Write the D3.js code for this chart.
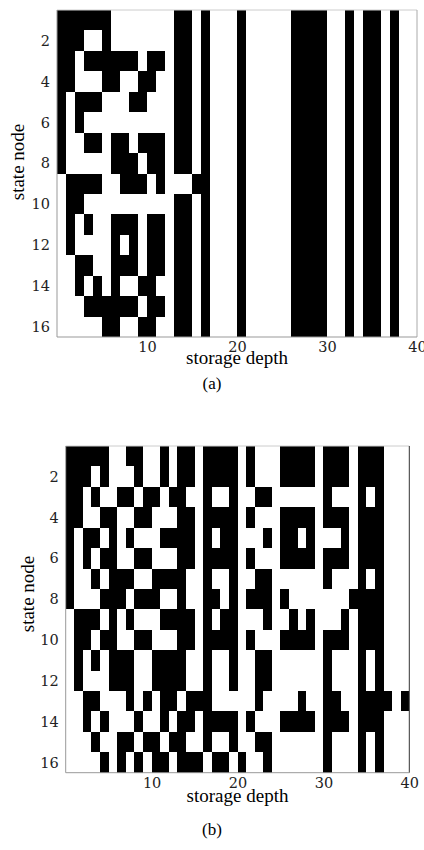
<!DOCTYPE html>
<html>
<head>
<meta charset="utf-8">
<script src="https://cdn.jsdelivr.net/npm/d3@7"></script>
<style>
  body { margin: 0; background: #fff; }
</style>
</head>
<body>
<div id="chart"></div>
<script>
// each string is one state node (row 1..16), each character one storage depth (1..40)
// "1" = black cell, "0" = white cell
var depthA = [
  "1111110000000110100010000011110010110100",
  "1110010000000110100010000011110010110100",
  "1101111110110110100010000011110010110100",
  "1100011001100110100010000011110010110100",
  "1011100011000110100010000011110010110100",
  "1010000000000110100010000011110010110100",
  "1001101101110110100010000011110010110100",
  "1000001110110110100010000011110010110100",
  "0111100111010001100010000011110010110100",
  "0110000000000110100010000011110010110100",
  "0101001110110110100010000011110010110100",
  "0100001010110110100010000011110010110100",
  "0011001110110110100010000011110010110100",
  "0010101001100110100010000011110010110100",
  "0001111110110110100010000011110010110100",
  "0000011001100110100010000011110010110100"
];

var depthB = [
  "1111100110010110111101000111101110111000",
  "1110100010010110111101000111101110111000",
  "1101001101101100100100110000001000101000",
  "1100110011000110111101000111101110111000",
  "1011010100011110101100010110100010111000",
  "1010110011000110111101000111101110111000",
  "1001011100111100100100110000001000101000",
  "1000111011100100110101110100000001111000",
  "0111010100011110101100010010100010111000",
  "0110110011000110111101000111101110111000",
  "0101011100111100100100110000001000101000",
  "0100011100111100100100110000001000101000",
  "0011000101011011100000100001001100111101",
  "0010100010010110111101000111101110111000",
  "0001001101101100100100110000001000101000",
  "0000101010110111011010010000001000101000"
];

var yTicks = [2, 4, 6, 8, 10, 12, 14, 16];
var xTicks = [10, 20, 30, 40];
var xTitle = "storage depth";
var yTitle = "state node";
var captions = ["(a)", "(b)"];

var width = 424, height = 850;

var svg = d3.select("#chart")
  .append("svg")
    .attr("width", width)
    .attr("height", height)
    .style("display", "block")
    .style("background", "#fff");

// layout of the two panels (pixel boxes of the image area)
var panels = [
  {data: depthA, caption: captions[0], left: 57, right: 417, top: 10, bottom: 337,
   xTitleY: 364, yTitleX: 24, yTitleY: 162, captionY: 389, rightStroke: "#aaa"},
  {data: depthB, caption: captions[1], left: 65.7, right: 409.3, top: 446, bottom: 772.7,
   xTitleY: 802, yTitleX: 34, yTitleY: 594, captionY: 835, rightStroke: "#333"}
];

function drawPanel(p) {
  var nRows = p.data.length,
      nCols = p.data[0].length;

  var x = d3.scaleLinear()
      .domain([0, nCols])
      .range([p.left, p.right]);
  var y = d3.scaleLinear()
      .domain([0.5, nRows + 0.5])
      .range([p.top, p.bottom]);

  // turn the strings into a list of black cells
  var cells = [];
  p.data.forEach(function (row, i) {
    row.split("").forEach(function (v, j) {
      if (v === "1") cells.push({row: i + 1, col: j + 1});
    });
  });

  var g = svg.append("g");

  g.append("g")
    .selectAll("rect")
    .data(cells)
    .enter()
    .append("rect")
      .attr("x", function (d) { return x(d.col - 1); })
      .attr("y", function (d) { return y(d.row - 0.5); })
      .attr("width", function (d) { return x(d.col) - x(d.col - 1); })
      .attr("height", function (d) { return y(d.row + 0.5) - y(d.row - 0.5); })
      .attr("fill", "#000")
      .attr("shape-rendering", "crispEdges");

  // box around the image
  g.append("line")
    .attr("x1", p.left).attr("x2", p.right).attr("y1", p.top).attr("y2", p.top)
    .attr("stroke", "#ccc");
  g.append("line")
    .attr("x1", p.right).attr("x2", p.right).attr("y1", p.top).attr("y2", p.bottom)
    .attr("stroke", p.rightStroke);
  g.append("line")
    .attr("x1", p.left).attr("x2", p.left).attr("y1", p.top).attr("y2", p.bottom)
    .attr("stroke", "#999");
  g.append("line")
    .attr("x1", p.left).attr("x2", p.right).attr("y1", p.bottom).attr("y2", p.bottom)
    .attr("stroke", "#999");

  // axes (ticks hidden, only labels)
  var xAxis = g.append("g")
    .attr("transform", "translate(0," + p.bottom + ")")
    .call(d3.axisBottom(x).tickValues(xTicks).tickSize(0).tickPadding(5));
  var yAxis = g.append("g")
    .attr("transform", "translate(" + p.left + ",0)")
    .call(d3.axisLeft(y).tickValues(yTicks).tickSize(0).tickPadding(7));

  [xAxis, yAxis].forEach(function (ax) {
    ax.select(".domain").remove();
    ax.selectAll("text")
      .style("font-family", "'DejaVu Serif', serif")
      .style("font-size", "14.5px")
      .style("fill", "#222");
  });

  g.append("text")
    .attr("x", (p.left + p.right) / 2)
    .attr("y", p.xTitleY)
    .attr("text-anchor", "middle")
    .style("font-family", "'Liberation Serif', serif")
    .style("font-size", "19px")
    .text(xTitle);

  g.append("text")
    .attr("transform", "translate(" + p.yTitleX + "," + p.yTitleY + ") rotate(-90)")
    .attr("text-anchor", "middle")
    .style("font-family", "'Liberation Serif', serif")
    .style("font-size", "19px")
    .text(yTitle);

  g.append("text")
    .attr("x", 212)
    .attr("y", p.captionY)
    .attr("text-anchor", "middle")
    .style("font-family", "'Liberation Serif', serif")
    .style("font-size", "17px")
    .text(p.caption);
}

panels.forEach(drawPanel);
</script>
</body>
</html>
